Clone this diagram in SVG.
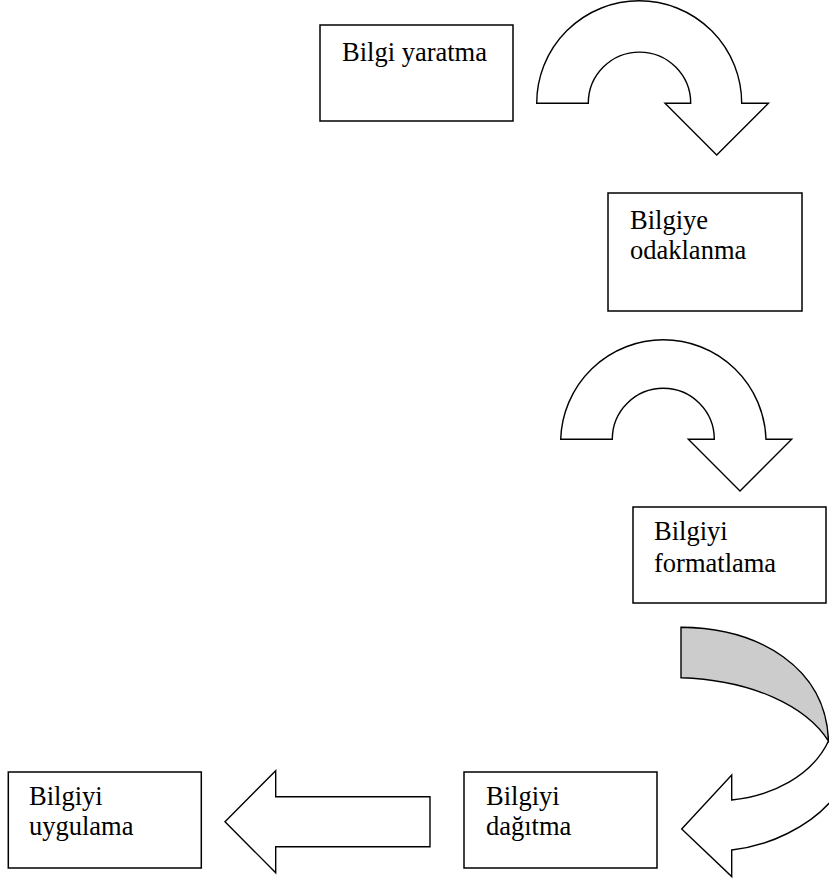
<svg xmlns="http://www.w3.org/2000/svg" width="829" height="881" viewBox="0 0 829 881">
  <style>
    .box { fill: #ffffff; stroke: #000000; stroke-width: 1.5; }
    .arrow { fill: #ffffff; stroke: #000000; stroke-width: 1.4; stroke-linejoin: miter; }
    .back { fill: #cccccc; stroke: #000000; stroke-width: 1.4; }
    .label { font-family: "Liberation Serif", "Times New Roman", serif; font-size: 26.5px; fill: #000000; }
  </style>
  <rect width="829" height="881" fill="#ffffff"/>

  <g id="connectors">
    <!-- curved arrow: Bilgi yaratma to Bilgiye odaklanma -->
    <path id="arrow-1" class="arrow" d="M536.7,103.3 A102.5,102.5 0 0 1 741.7,103.3 L768.4,103.3 L716.7,155 L665,103.3 L690.7,103.3 A51.2,51.2 0 0 0 588.3,103.3 Z"/>
    <!-- curved arrow: Bilgiye odaklanma to Bilgiyi formatlama -->
    <path id="arrow-2" class="arrow" d="M560.7,439.3 A102.7,102.7 0 0 1 766,439.3 L791.7,439.3 L740,491 L688.3,439.3 L714.3,439.3 A51,51 0 0 0 612.3,439.3 Z"/>
    <!-- curved left arrow: back band and front band with head -->
    <path id="arrow-3-back" class="back" d="M681,627.3 C760,628 826,668 828.5,741 C806,706 752,680 681,677.7 Z"/>
    <path id="arrow-3-front" class="arrow" d="M828.5,741 C812,776 772,796 731.7,800 L731.7,775 L681.7,829 L731.7,876.5 L731.7,850 C770,846 810,826 832,800 C842,786 840,760 828.5,741 Z"/>
    <!-- straight left arrow: Bilgiyi dağıtma to Bilgiyi uygulama -->
    <path id="arrow-4" class="arrow" d="M430,796.7 L275.7,796.7 L275.7,770.7 L225,821.7 L275.7,872.7 L275.7,846.7 L430,846.7 Z"/>
  </g>

  <g id="node-bilgi-yaratma">
    <rect class="box" x="320" y="25" width="193" height="96"/>
    <text class="label" x="342" y="61">Bilgi yaratma</text>
  </g>

  <g id="node-bilgiye-odaklanma">
    <rect class="box" x="608" y="193" width="194" height="118"/>
    <text class="label" x="630" y="229">Bilgiye</text>
    <text class="label" x="630" y="259">odaklanma</text>
  </g>

  <g id="node-bilgiyi-formatlama">
    <rect class="box" x="633" y="507" width="193" height="96"/>
    <text class="label" x="654" y="540">Bilgiyi</text>
    <text class="label" x="654" y="572">formatlama</text>
  </g>

  <g id="node-bilgiyi-dagitma">
    <rect class="box" x="464" y="772" width="193" height="96"/>
    <text class="label" x="486" y="805">Bilgiyi</text>
    <text class="label" x="486" y="835">dağıtma</text>
  </g>

  <g id="node-bilgiyi-uygulama">
    <rect class="box" x="8.3" y="772" width="193" height="96"/>
    <text class="label" x="29" y="805">Bilgiyi</text>
    <text class="label" x="29" y="835">uygulama</text>
  </g>
</svg>
